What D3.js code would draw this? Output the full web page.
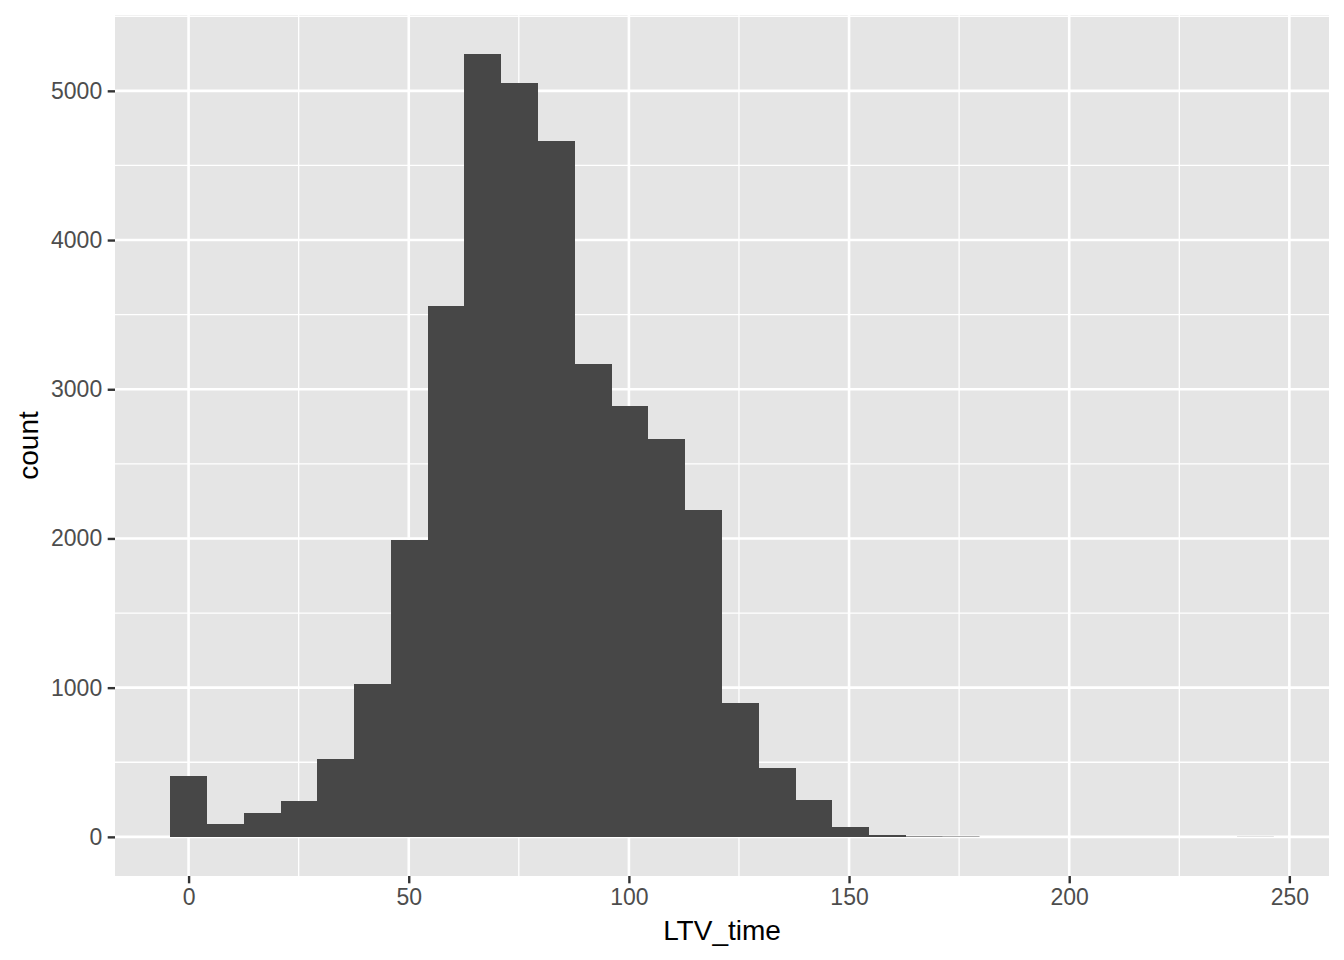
<!DOCTYPE html>
<html>
<head>
<meta charset="utf-8">
<script src="https://cdn.jsdelivr.net/npm/d3@7"></script>
<style>
  body { margin: 0; background: #fff; }
  svg { display: block; font-family: "Liberation Sans", Arial, Helvetica, sans-serif; }
</style>
</head>
<body>
<svg id="chart"></svg>
<script>
var WIDTH = 1344;
var HEIGHT = 960;

// histogram of LTV_time, 30 bins
var binStart = -4.18;
var binWidth = 8.355;
var counts = [407, 85, 159, 239, 521, 1024, 1989, 3557, 5246, 5051,
              4663, 3168, 2886, 2666, 2190, 897, 461, 246, 65, 12,
              4, 3, 0, 0, 0, 0, 0, 0, 0, 1];
var xTicks = [0, 50, 100, 150, 200, 250];
var xMinor = [25, 75, 125, 175, 225];
var yTicks = [0, 1000, 2000, 3000, 4000, 5000];
var yMinor = [500, 1500, 2500, 3500, 4500, 5500];
var xLabel = 'LTV_time';
var yLabel = 'count';

var bins = counts.map(function(c, i){
  return { x0: binStart + i * binWidth, x1: binStart + (i + 1) * binWidth, count: c };
});

var panel = { left: 115, right: 1329, top: 15, bottom: 876 };

var xMin = binStart, xMax = binStart + counts.length * binWidth;
var xPad = (xMax - xMin) * 0.05;
var xScale = d3.scaleLinear()
  .domain([xMin - xPad, xMax + xPad])
  .range([panel.left, panel.right]);

var yMax = d3.max(counts);
var yScale = d3.scaleLinear()
  .domain([-yMax * 0.05, yMax * 1.05])
  .range([panel.bottom, panel.top]);

var svg = d3.select('#chart')
  .attr('width', WIDTH)
  .attr('height', HEIGHT);

svg.append('rect')
  .attr('width', WIDTH).attr('height', HEIGHT)
  .attr('fill', '#fff');

// panel background
svg.append('rect')
  .attr('x', panel.left).attr('y', panel.top)
  .attr('width', panel.right - panel.left)
  .attr('height', panel.bottom - panel.top)
  .attr('fill', '#e5e5e5');

var grid = svg.append('g').attr('stroke', '#fff');

// minor grid
grid.selectAll('.xminor').data(xMinor).enter().append('line')
  .attr('x1', xScale).attr('x2', xScale)
  .attr('y1', panel.top).attr('y2', panel.bottom)
  .attr('stroke-width', 1.3);
grid.selectAll('.yminor').data(yMinor).enter().append('line')
  .attr('y1', yScale).attr('y2', yScale)
  .attr('x1', panel.left).attr('x2', panel.right)
  .attr('stroke-width', 1.3);

// major grid
grid.selectAll('.xmajor').data(xTicks).enter().append('line')
  .attr('x1', xScale).attr('x2', xScale)
  .attr('y1', panel.top).attr('y2', panel.bottom)
  .attr('stroke-width', 2.6);
grid.selectAll('.ymajor').data(yTicks).enter().append('line')
  .attr('y1', yScale).attr('y2', yScale)
  .attr('x1', panel.left).attr('x2', panel.right)
  .attr('stroke-width', 2.6);

// bars - crisp edges avoid seams, but tiny bars keep antialiasing so they stay visible
svg.append('g')
  .selectAll('rect').data(bins).enter().append('rect')
  .attr('x', function(d){ return xScale(d.x0); })
  .attr('width', function(d){ return xScale(d.x1) - xScale(d.x0); })
  .attr('y', function(d){ return yScale(d.count); })
  .attr('height', function(d){ return yScale(0) - yScale(d.count); })
  .attr('shape-rendering', function(d){
    return (yScale(0) - yScale(d.count)) >= 1 ? 'crispEdges' : 'auto';
  })
  .attr('fill', '#474747');

// axes
var bottomAxis = d3.axisBottom(xScale).tickValues(xTicks).tickSize(7.3).tickPadding(5.5);
var gx = svg.append('g')
  .attr('transform', 'translate(0,' + panel.bottom + ')')
  .call(bottomAxis);

var leftAxis = d3.axisLeft(yScale).tickValues(yTicks).tickSize(7.3).tickPadding(5.5)
  .tickFormat(d3.format('d'));
var gy = svg.append('g')
  .attr('transform', 'translate(' + panel.left + ',0)')
  .call(leftAxis);

[gx, gy].forEach(function(g){
  g.select('.domain').remove();
  g.selectAll('.tick line').attr('stroke', '#333').attr('stroke-width', 2.4);
  g.selectAll('.tick text')
    .attr('fill', '#4d4d4d')
    .style('font-size', '23px')
    .style('font-family', '"Liberation Sans", Arial, Helvetica, sans-serif');
});

// axis titles
svg.append('text')
  .attr('x', (panel.left + panel.right) / 2)
  .attr('y', 940)
  .attr('text-anchor', 'middle')
  .style('font-size', '28px')
  .attr('fill', '#000')
  .text(xLabel);

svg.append('text')
  .attr('transform', 'translate(38,' + (panel.top + panel.bottom) / 2 + ') rotate(-90)')
  .attr('text-anchor', 'middle')
  .style('font-size', '28px')
  .attr('fill', '#000')
  .text(yLabel);
</script>
</body>
</html>
